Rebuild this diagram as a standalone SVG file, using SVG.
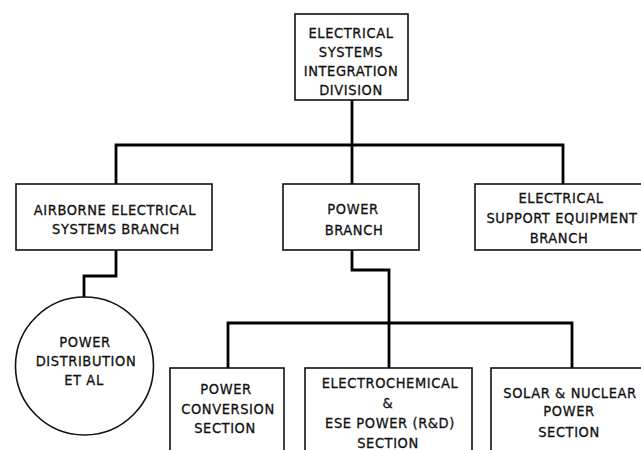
<svg xmlns="http://www.w3.org/2000/svg" width="641" height="450" viewBox="0 0 641 450">
<style>
.box{fill:#fff;stroke:#111;stroke-width:1.6}
.conn{fill:none;stroke:#000;stroke-width:2.8;stroke-linejoin:miter}
text{font-family:"DejaVu Sans","Liberation Sans",sans-serif;font-stretch:condensed;font-size:14.5px;fill:#111;stroke:#111;stroke-width:0.3;text-anchor:middle;letter-spacing:0.6px}
</style>
<rect width="641" height="450" fill="#fff"/>
<g id="connectors">
<path class="conn" d="M352,100 V184"/>
<path class="conn" d="M116,184 V145 H563 V184"/>
<path class="conn" d="M116,250 V276 H84 V297"/>
<path class="conn" d="M352,250 V270 H389 V368"/>
<path class="conn" d="M228,368 V323 H572 V368"/>
</g>
<g id="division">
<rect class="box" x="295" y="14" width="113" height="86"/>
<text x="351" y="37.5">ELECTRICAL</text>
<text x="351" y="56.5">SYSTEMS</text>
<text x="351" y="75.5">INTEGRATION</text>
<text x="351" y="94.5">DIVISION</text>
</g>
<g id="airborne">
<rect class="box" x="16" y="184" width="196" height="66"/>
<text x="115" y="214.5">AIRBORNE ELECTRICAL</text>
<text x="116" y="234">SYSTEMS BRANCH</text>
</g>
<g id="power-branch">
<rect class="box" x="283" y="184" width="136" height="66"/>
<text x="353" y="213.5">POWER</text>
<text x="354" y="234.5">BRANCH</text>
</g>
<g id="ese-branch">
<rect class="box" x="475" y="184" width="170" height="66"/>
<text x="561" y="202.5">ELECTRICAL</text>
<text x="562" y="222.5">SUPPORT EQUIPMENT</text>
<text x="559" y="242.5">BRANCH</text>
</g>
<g id="power-distribution">
<circle class="box" cx="84.5" cy="366" r="69"/>
<text x="85" y="346.5">POWER</text>
<text x="86" y="365.5">DISTRIBUTION</text>
<text x="84" y="384.5">ET AL</text>
</g>
<g id="power-conversion">
<rect class="box" x="170" y="368" width="114" height="90"/>
<text x="226" y="393.5">POWER</text>
<text x="228" y="413.5">CONVERSION</text>
<text x="225" y="432.5">SECTION</text>
</g>
<g id="electrochemical">
<rect class="box" x="305" y="368" width="167" height="90"/>
<text x="390" y="387.5">ELECTROCHEMICAL</text>
<text x="388" y="408">&amp;</text>
<text x="390" y="428">ESE POWER (R&amp;D)</text>
<text x="388" y="447.5">SECTION</text>
</g>
<g id="solar-nuclear">
<rect class="box" x="491" y="368" width="160" height="90"/>
<text x="570" y="397.5">SOLAR &amp; NUCLEAR</text>
<text x="569" y="416">POWER</text>
<text x="569" y="436.5">SECTION</text>
</g>
</svg>
